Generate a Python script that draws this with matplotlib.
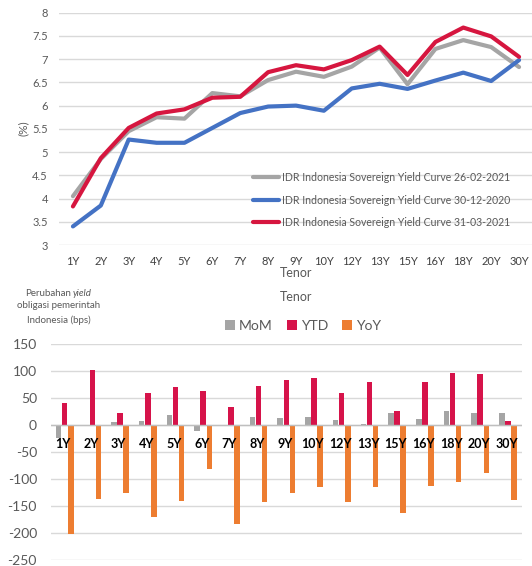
import matplotlib.pyplot as plt
import numpy as np

plt.rcParams['font.family'] = ['Lato', 'DejaVu Sans']
plt.rcParams['axes.unicode_minus'] = False

tenors = ["1Y", "2Y", "3Y", "4Y", "5Y", "6Y", "7Y", "8Y", "9Y", "10Y",
          "12Y", "13Y", "15Y", "16Y", "18Y", "20Y", "30Y"]

# yield curves (%)
yc_260221 = [4.05, 4.85, 5.45, 5.75, 5.72, 6.27, 6.20, 6.55, 6.73, 6.62,
             6.84, 7.25, 6.46, 7.22, 7.41, 7.26, 6.83]
yc_301220 = [3.40, 3.85, 5.27, 5.20, 5.20, 5.52, 5.84, 5.98, 6.00, 5.89,
             6.37, 6.47, 6.36, 6.54, 6.71, 6.53, 6.98]
yc_310321 = [3.83, 4.87, 5.52, 5.83, 5.92, 6.17, 6.19, 6.72, 6.87, 6.78,
             6.98, 7.27, 6.66, 7.37, 7.68, 7.49, 7.05]

# changes (bps)
mom = [-23, 1, 5, 7, 19, -10, 0, 16, 13, 16, 10, 2, 22, 11, 27, 22, 22]
ytd = [42, 102, 22, 60, 70, 64, 33, 72, 83, 88, 59, 80, 27, 80, 97, 94, 7]
yoy = [-202, -137, -126, -171, -141, -81, -184, -142, -125, -114, -143,
       -114, -162, -112, -106, -89, -139]

W, H = 532, 566
fig = plt.figure(figsize=(W / 100, H / 100), dpi=100)

def box(x0, y0, x1, y1):
    return [x0 / W, 1 - y1 / H, (x1 - x0) / W, (y1 - y0) / H]

tick_c = "#595959"
grid_c = "#D9D9D9"
x = np.arange(len(tenors))

# ---- top chart ----
ax1 = fig.add_axes(box(59, 12.7, 533, 245))
ax1.plot(x, yc_260221, color="#A5A5A5", lw=3, solid_capstyle="round",
         label="IDR Indonesia Sovereign Yield Curve 26-02-2021")
ax1.plot(x, yc_301220, color="#4472C4", lw=3, solid_capstyle="round",
         label="IDR Indonesia Sovereign Yield Curve 30-12-2020")
ax1.plot(x, yc_310321, color="#D6163F", lw=3, solid_capstyle="round",
         label="IDR Indonesia Sovereign Yield Curve 31-03-2021")
ax1.set_xlim(-0.5, len(tenors) - 0.5)
ax1.set_ylim(3, 8)
ax1.set_yticks(np.arange(3, 8.01, 0.5))
ax1.set_yticklabels([f"{v:g}" for v in np.arange(3, 8.01, 0.5)])
ax1.set_xticks(x)
ax1.set_xticklabels(tenors)
ax1.grid(axis="y", color=grid_c, lw=1)
ax1.set_axisbelow(True)
for s in ax1.spines.values():
    s.set_visible(False)
ax1.tick_params(axis="y", length=0, pad=8, labelsize=8, labelcolor=tick_c)
ax1.tick_params(axis="x", length=0, pad=8, labelsize=8, labelcolor="#404040")
fig.text(23 / W, 1 - 128 / H, "(%)", rotation=90, ha="center", va="center",
         fontsize=8.5, color=tick_c)
fig.text(296 / W, 1 - 273 / H, "Tenor", ha="center", va="center",
         fontsize=9, color=tick_c)
ax1.legend(loc="center left", bbox_to_anchor=(253 / W, 1 - 200 / H),
           bbox_transform=fig.transFigure, frameon=False, fontsize=7.6,
           labelcolor=tick_c, handlelength=2.5, handletextpad=0.2,
           labelspacing=1.1, borderpad=0, borderaxespad=0)

# ---- bottom chart ----
ax2 = fig.add_axes(box(50.8, 344.3, 521.8, 560))
bw = 0.2
ax2.bar(x - 0.22, mom, bw, color="#A5A5A5", label="MoM")
ax2.bar(x, ytd, bw, color="#D6134A", label="YTD")
ax2.bar(x + 0.22, yoy, bw, color="#ED7D31", label="YoY")
ax2.set_xlim(-0.5, len(tenors) - 0.5)
ax2.set_ylim(-250, 150)
ax2.set_yticks(np.arange(-250, 151, 50))
ax2.set_xticks([])
ax2.grid(axis="y", color=grid_c, lw=1)
ax2.set_axisbelow(True)
ax2.axhline(0, color="#BFBFBF", lw=1)
for s in ax2.spines.values():
    s.set_visible(False)
ax2.tick_params(axis="y", length=0, pad=10, labelsize=10, labelcolor=tick_c)
for i, t in enumerate(tenors):
    ax2.text(i - 0.05, -35, t, ha="center", va="center", fontsize=9,
             fontweight="bold", color="black")
fig.legend(*ax2.get_legend_handles_labels(), loc="center",
           bbox_to_anchor=(303 / W, 1 - 326 / H), ncol=3, frameon=False,
           fontsize=10, labelcolor=tick_c, handlelength=0.7,
           handleheight=0.7, handletextpad=0.3, columnspacing=1.0)
fig.text(296 / W, 1 - 297 / H, "Tenor", ha="center", va="center",
         fontsize=9, color=tick_c)

# stacked label at top left
fig.text(71 / W, 1 - 293 / H, "Perubahan", ha="right", va="center",
         fontsize=7, color=tick_c)
fig.text(73 / W, 1 - 293 / H, "yield", ha="left", va="center",
         fontsize=7, color=tick_c, style="italic")
fig.text(59 / W, 1 - 306 / H, "obligasi pemerintah", ha="center",
         va="center", fontsize=7, color=tick_c)
fig.text(59 / W, 1 - 320 / H, "Indonesia (bps)", ha="center",
         va="center", fontsize=7, color=tick_c)

fig.savefig("out.png", dpi=100)
